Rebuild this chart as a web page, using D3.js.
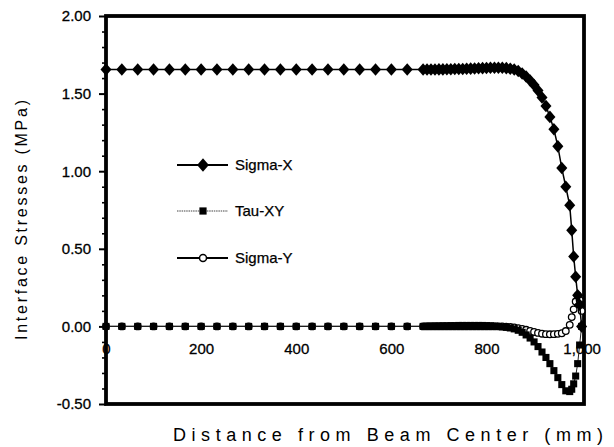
<!DOCTYPE html>
<html>
<head>
<meta charset="utf-8">
<script src="https://cdn.jsdelivr.net/npm/d3@7"></script>
<style>
  html, body { margin: 0; padding: 0; background: #fff; }
  svg { display: block; font-family: "Liberation Sans", Arial, sans-serif; }
</style>
</head>
<body>
<svg id="chart" width="614" height="447"></svg>
<script>
// Distance from the beam centre (mm) for every node along the interface
const distance = [
  0, 33.3, 66.7, 100, 133.3, 166.7, 200, 233.3, 266.7, 300, 333.3,
  366.7, 400, 433.3, 466.7, 500, 533.3, 566.7, 600, 633.3, 666.7,
  675, 683.3, 691.7, 700, 708.3, 716.7, 725, 733.3, 741.7, 750,
  758.3, 766.7, 775, 783.3, 791.7, 800, 808.3, 816.7, 825, 833.3,
  841.7, 850, 858.3, 866.7, 875, 883.3, 891.7, 900, 908.3, 916.7,
  925, 933.3, 941.7, 950, 958.3, 966.7, 975,
  979.2, 983.3, 987.5, 991.7, 995.8, 1000
];

// Normal stress along the beam axis (MPa)
const sigmaX = [
  1.655, 1.655, 1.655, 1.655, 1.655, 1.655, 1.655, 1.655, 1.655, 1.655, 1.655,
  1.655, 1.655, 1.655, 1.655, 1.655, 1.655, 1.655, 1.655, 1.655, 1.655,
  1.655, 1.655, 1.655, 1.656, 1.656, 1.657, 1.657, 1.658, 1.658, 1.659,
  1.660, 1.661, 1.662, 1.663, 1.664, 1.665, 1.666, 1.667, 1.667, 1.666,
  1.664, 1.660, 1.655, 1.645, 1.630, 1.610, 1.585, 1.555, 1.520, 1.475,
  1.420, 1.350, 1.270, 1.160, 1.020, 0.900, 0.780,
  0.620, 0.450, 0.320, 0.200, 0.140, 0.000
];

// Interface shear stress (MPa)
const tauXY = [
  0, 0, 0, 0, 0, 0, 0, 0, 0, 0, 0,
  0, 0, 0, 0, 0, 0, 0, 0, 0, 0,
  0.002, 0.002, 0.003, 0.003, 0.004, 0.004, 0.005, 0.005, 0.006, 0.006,
  0.006, 0.006, 0.006, 0.006, 0.006, 0.005, 0.004, 0.002, 0.000, -0.003,
  -0.006, -0.010, -0.016, -0.025, -0.038, -0.055, -0.075, -0.100, -0.130, -0.165,
  -0.200, -0.240, -0.285, -0.330, -0.375, -0.415, -0.420,
  -0.405, -0.370, -0.320, -0.240, -0.120, 0.000
];

// Normal stress across the interface (MPa)
const sigmaY = [
  0, 0, 0, 0, 0, 0, 0, 0, 0, 0, 0,
  0, 0, 0, 0, 0, 0, 0, 0, 0, 0,
  0, 0, 0, 0, 0, 0, 0, 0, 0, 0,
  0, 0, 0, 0, 0, 0, 0, 0, 0, 0,
  -0.002, -0.004, -0.007, -0.011, -0.016, -0.022, -0.029, -0.036, -0.042, -0.047,
  -0.050, -0.051, -0.050, -0.048, -0.044, -0.030, 0.010,
  0.060, 0.110, 0.160, 0.200, 0.170, 0.100
];

const seriesNames = ["Sigma-X", "Tau-XY", "Sigma-Y"];
const xTicks = [0, 200, 400, 600, 800, 1000];
const yTicks = [-0.5, 0, 0.5, 1.0, 1.5, 2.0];
const yMinorTicks = [-0.4, -0.3, -0.2, -0.1, 0.1, 0.2, 0.3, 0.4, 0.6, 0.7, 0.8, 0.9,
                     1.1, 1.2, 1.3, 1.4, 1.6, 1.7, 1.8, 1.9];

const svg = d3.select("#chart");
const plotLeft = 106, plotRight = 584, plotTop = 16, plotBottom = 404;

const x = d3.scaleLinear().domain([0, 1005]).range([plotLeft, plotRight]);
const y = d3.scaleLinear().domain([-0.5, 2.0]).range([plotBottom, plotTop]);

// a plump diamond, only a little taller than wide
const plumpDiamond = {
  draw(context, size) {
    const h = Math.sqrt(size) * 0.75, w = h * 0.88;
    context.moveTo(0, -h);
    context.lineTo(w, 0);
    context.lineTo(0, h);
    context.lineTo(-w, 0);
    context.closePath();
  }
};

// x tick labels sit under the zero line, drawn first so the frame and data cover them
const xAxis = svg.append("g")
  .attr("transform", `translate(0,${y(0)})`)
  .call(d3.axisBottom(x).tickValues(xTicks).tickSize(0).tickPadding(17)
        .tickFormat(d3.format(",")));
xAxis.select(".domain").remove();
xAxis.selectAll("text").attr("font-size", 15).attr("fill", "#000")
  .attr("stroke", "#000").attr("stroke-width", 0.3)
  .attr("font-family", "Liberation Sans, Arial, sans-serif");

// minor ticks on the stress axis
const yMinor = svg.append("g")
  .attr("transform", `translate(${plotLeft},0)`)
  .call(d3.axisLeft(y).tickValues(yMinorTicks).tickSize(4).tickFormat(""));
yMinor.select(".domain").remove();
yMinor.selectAll("line").attr("stroke", "#000").attr("stroke-width", 1.6);

// major ticks and labels
const yAxis = svg.append("g")
  .attr("transform", `translate(${plotLeft},0)`)
  .call(d3.axisLeft(y).tickValues(yTicks).tickSize(7).tickPadding(8)
        .tickFormat(d => d.toFixed(2)));
yAxis.select(".domain").remove();
yAxis.selectAll("line").attr("stroke", "#000").attr("stroke-width", 2);
yAxis.selectAll("text").attr("font-size", 15).attr("fill", "#000")
  .attr("stroke", "#000").attr("stroke-width", 0.3)
  .attr("font-family", "Liberation Sans, Arial, sans-serif");

// plot frame
svg.append("rect")
  .attr("x", plotLeft).attr("y", plotTop)
  .attr("width", plotRight - plotLeft).attr("height", plotBottom - plotTop)
  .attr("fill", "none").attr("stroke", "#000").attr("stroke-width", 3.8);

// axis titles
svg.append("text")
  .attr("transform", `translate(27,${(100 + 340) / 2}) rotate(-90)`)
  .attr("text-anchor", "middle")
  .attr("font-size", 16)
  .attr("textLength", 240).attr("lengthAdjust", "spacing")
  .text("Interface Stresses (MPa)");

svg.append("text")
  .attr("x", 388).attr("y", 441)
  .attr("text-anchor", "middle")
  .attr("font-size", 18)
  .attr("textLength", 430).attr("lengthAdjust", "spacing")
  .text("Distance from Beam Center (mm)");

// data series
const line = vals => d3.line()
  .x((d, i) => x(distance[i]))
  .y(d => y(d))(vals);

const diamond = d3.symbol().type(plumpDiamond).size(70);
const square = d3.symbol().type(d3.symbolSquare).size(50);

const plot = svg.append("g");

// Sigma-Y: open circles
plot.append("path").attr("d", line(sigmaY))
  .attr("fill", "none").attr("stroke", "#000").attr("stroke-width", 1.2);
plot.append("g").selectAll("circle").data(sigmaY).join("circle")
  .attr("cx", (d, i) => x(distance[i])).attr("cy", d => y(d)).attr("r", 3.3)
  .attr("fill", "#fff").attr("stroke", "#000").attr("stroke-width", 1.3);

// Tau-XY: filled squares on a thin line
plot.append("path").attr("d", line(tauXY))
  .attr("fill", "none").attr("stroke", "#222").attr("stroke-width", 1);
plot.append("g").selectAll("path").data(tauXY).join("path")
  .attr("d", square)
  .attr("transform", (d, i) => `translate(${x(distance[i])},${y(d)})`)
  .attr("fill", "#000");

// Sigma-X: filled diamonds
plot.append("path").attr("d", line(sigmaX))
  .attr("fill", "none").attr("stroke", "#000").attr("stroke-width", 1.5);
plot.append("g").selectAll("path").data(sigmaX).join("path")
  .attr("d", diamond)
  .attr("transform", (d, i) => `translate(${x(distance[i])},${y(d)})`)
  .attr("fill", "#000");

// legend
const legendRows = [165, 211, 258];
const legend = svg.append("g");
seriesNames.forEach((name, k) => {
  const ly = legendRows[k];
  legend.append("line")
    .attr("x1", 177).attr("x2", 228).attr("y1", ly).attr("y2", ly)
    .attr("stroke", k === 1 ? "#444" : "#000")
    .attr("stroke-width", k === 1 ? 1.2 : 2)
    .attr("stroke-dasharray", k === 1 ? "1.5,0.8" : null);
  if (k === 0) {
    legend.append("path").attr("d", d3.symbol().type(plumpDiamond).size(80))
      .attr("transform", `translate(203,${ly})`).attr("fill", "#000");
  } else if (k === 1) {
    legend.append("path").attr("d", d3.symbol().type(d3.symbolSquare).size(52))
      .attr("transform", `translate(203,${ly})`).attr("fill", "#000");
  } else {
    legend.append("circle").attr("cx", 203).attr("cy", ly).attr("r", 3.5)
      .attr("fill", "#fff").attr("stroke", "#000").attr("stroke-width", 1.5);
  }
  legend.append("text")
    .attr("x", 235).attr("y", ly).attr("dy", "0.36em")
    .attr("font-size", 15)
    .attr("stroke", "#000").attr("stroke-width", 0.25)
    .text(name);
});
</script>
</body>
</html>
